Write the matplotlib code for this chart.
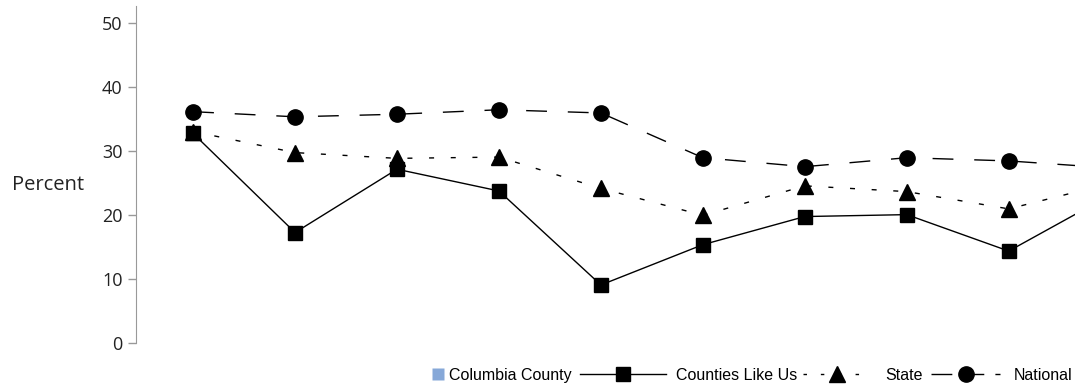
import numpy as np
import matplotlib
matplotlib.use("Agg")
import matplotlib.pyplot as plt
from matplotlib.lines import Line2D

# values (last point lies past the right edge)
periods = list(range(10))
counties_like_us = [32.8, 17.3, 27.2, 23.8, 9.1, 15.4, 19.8, 20.1, 14.4, 23.2]
state = [33.1, 29.8, 28.9, 29.1, 24.2, 20.0, 24.6, 23.7, 21.0, 25.0]
national = [36.2, 35.4, 35.8, 36.5, 36.0, 29.0, 27.6, 29.0, 28.5, 27.4]
yticks = [0, 10, 20, 30, 40, 50]

TICK_FONT = ["Open Sans", "DejaVu Sans"]
LEG_FONT = ["Liberation Sans", "DejaVu Sans"]
COUNTY_BLUE = "#86a8d8"

fig = plt.figure(figsize=(10.75, 3.86), dpi=100)
ax = fig.add_axes([0.1265, 0.111, 0.8735, 0.873])

ax.plot(periods, national, color="black", lw=1.0, dashes=(15, 15),
        marker="o", markersize=11, zorder=3)
ax.plot(periods, state, color="black", lw=1.0, dashes=(3.6, 12),
        marker="^", markersize=11, zorder=3)
ax.plot(periods, counties_like_us, color="black", lw=1.0,
        marker="s", markersize=10, zorder=4)

ax.set_xlim(-0.56, 8.65)
ax.set_ylim(0, 52.7)
ax.set_yticks(yticks)
ax.set_yticklabels([str(t) for t in yticks], fontsize=13, family=TICK_FONT, color="#222222")
ax.tick_params(axis="y", length=6, width=1, color="#999999", pad=3.6)
ax.set_xticks([])

for side in ["top", "right", "bottom"]:
    ax.spines[side].set_visible(False)
ax.spines["left"].set_color("#999999")

ax.set_ylabel("Percent", rotation=0, fontsize=14.5, family=TICK_FONT,
              color="#222222", ha="center", va="center")
ax.yaxis.set_label_coords(-0.0937, 0.468)

# legend pieces, each anchored by its right edge along the bottom row
leg_kw = dict(loc="center right", frameon=False, borderpad=0, borderaxespad=0,
              prop={"family": LEG_FONT, "size": 11.5})

county_handle = Line2D([], [], linestyle="none", marker="s", markersize=8,
                       markerfacecolor=COUNTY_BLUE, markeredgecolor="none")
fig.legend([county_handle], ["Columbia County"], bbox_to_anchor=(0.532, 0.028),
           handlelength=0.7, handletextpad=0.35, **leg_kw)

clu_handle = Line2D([], [], color="black", lw=1.0, marker="s", markersize=10)
fig.legend([clu_handle], ["Counties Like Us"], bbox_to_anchor=(0.7415, 0.028),
           handlelength=5.4, handletextpad=0.6, **leg_kw)

other_handles = [
    Line2D([], [], color="black", lw=1.0, dashes=(2.5, 10), marker="^", markersize=11),
    Line2D([], [], color="black", lw=1.0, dashes=(15, 8), marker="o", markersize=11),
]
fig.legend(other_handles, ["State", "National"], bbox_to_anchor=(0.998, 0.028),
           ncol=2, handlelength=4.3, columnspacing=0.5, handletextpad=0.9, **leg_kw)

fig.savefig("out.png", dpi=100)
